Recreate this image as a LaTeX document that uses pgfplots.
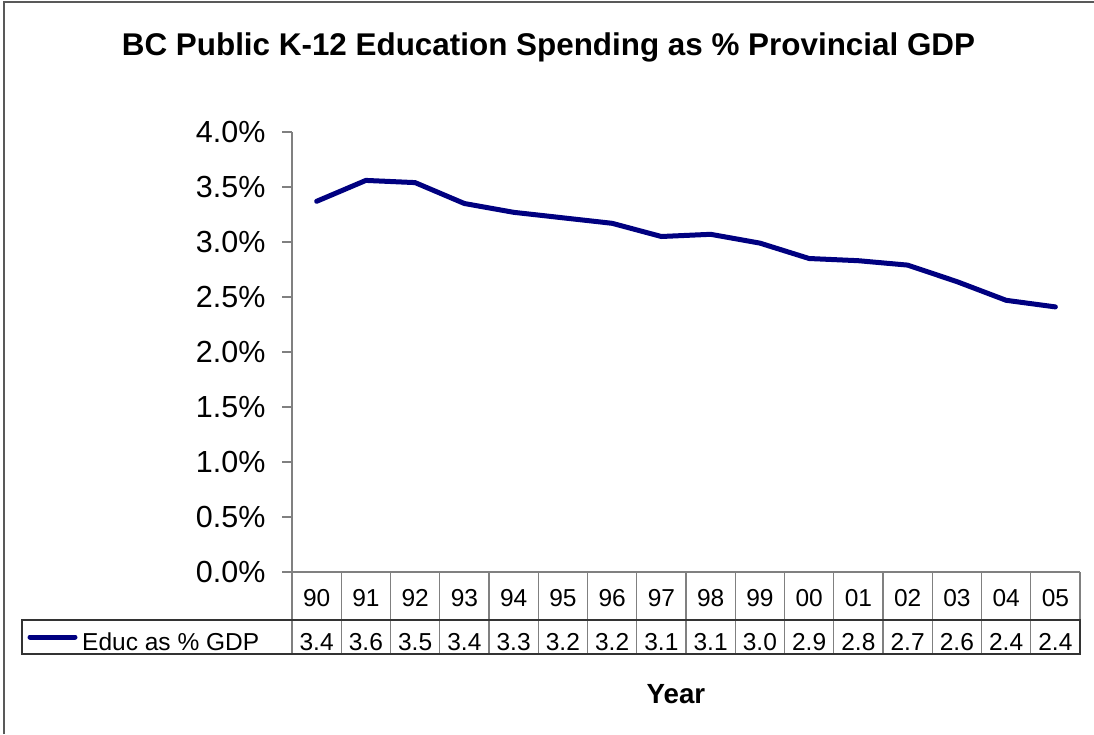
\documentclass[border=0pt]{standalone}
\usepackage{pgfplots}
\pgfplotsset{compat=1.18}
\usepackage{fontspec}
\setmainfont{Liberation Sans}
\definecolor{navyline}{RGB}{0,0,128}
\definecolor{gridgray}{RGB}{128,128,128}
\begin{document}
\begin{tikzpicture}
\path[use as bounding box] (0pt,0pt) rectangle (1094pt,-734pt);
\draw[gray!70!black, line width=1.5pt] (4pt,-734pt) -- (4pt,-2pt) -- (1094pt,-2pt);
\node[anchor=base, inner sep=0, font=\fontsize{31.4}{36}\selectfont\bfseries] at (548.5pt,-55pt) {BC Public K-12 Education Spending as \% Provincial GDP};
\begin{axis}[
  at={(292pt,-572pt)}, anchor=south west,
  scale only axis, width=788pt, height=440pt,
  xmin=-0.5, xmax=15.5, ymin=0, ymax=4,
  axis x line=none,
  axis y line=left,
  axis line style={-, draw=gridgray, line width=1.2pt},
  xtick=\empty,
  ytick={0,0.5,1,1.5,2,2.5,3,3.5,4},
  yticklabel={\pgfmathprintnumber[fixed,fixed zerofill,precision=1]{\tick}\%},
  /pgf/number format/assume math mode=true,
  tick style={draw=gridgray, line width=1.2pt},
  major tick length=10pt, tick align=outside,
  yticklabel style={font=\fontsize{30.5}{36}\selectfont, xshift=-13pt},
  clip=false,
]
\addplot[navyline, line width=5pt, line join=round, line cap=round] coordinates {
(0,3.37) (1,3.56) (2,3.54) (3,3.35) (4,3.27) (5,3.22) (6,3.17) (7,3.05)
(8,3.07) (9,2.99) (10,2.85) (11,2.83) (12,2.79) (13,2.64) (14,2.47) (15,2.41)
};
\end{axis}
% data table under the chart
\draw[gridgray, line width=1.2pt] (292pt,-572pt) -- (1080pt,-572pt);
\foreach \k in {0,...,16}
  \draw[gridgray, line width=1.2pt] ({292pt+49.25pt*\k},-572pt) -- ({292pt+49.25pt*\k},-654pt);
\draw[black!80, line width=1.2pt] (22pt,-620pt) rectangle (1080pt,-654pt);
\foreach \yr [count=\i from 0] in {90,91,92,93,94,95,96,97,98,99,00,01,02,03,04,05}
  \node[anchor=base, inner sep=0, font=\fontsize{24.5}{28}\selectfont] at ({292pt+49.25pt*(\i+0.5)},-606.5pt) {\yr};
\foreach \v [count=\i from 0] in {3.4,3.6,3.5,3.4,3.3,3.2,3.2,3.1,3.1,3.0,2.9,2.8,2.7,2.6,2.4,2.4}
  \node[anchor=base, inner sep=0, font=\fontsize{24.5}{28}\selectfont] at ({292pt+49.25pt*(\i+0.5)},-650.5pt) {\v};
\draw[navyline, line width=5pt, line cap=round] (30pt,-637pt) -- (75pt,-637pt);
\node[anchor=base west, inner sep=0, font=\fontsize{24.5}{28}\selectfont] at (82pt,-650.5pt) {Educ as \% GDP};
\node[anchor=base, inner sep=0, font=\fontsize{27.7}{32}\selectfont\bfseries] at (676pt,-703pt) {Year};
\end{tikzpicture}
\end{document}
